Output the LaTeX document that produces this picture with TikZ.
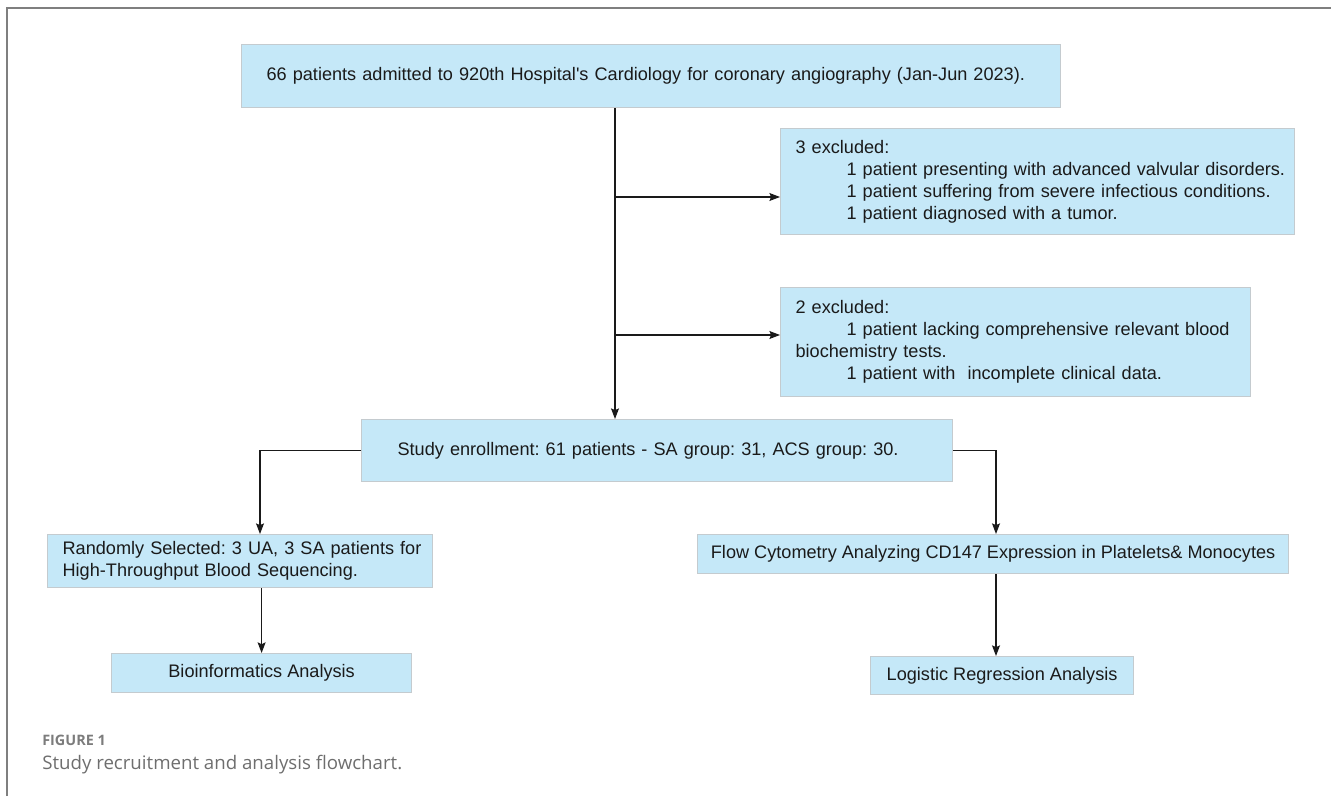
\documentclass[tikz,border=0pt]{standalone}
\usepackage{fontspec}
\setmainfont{Liberation Sans}
\newfontfamily\capfont{Open Sans}
\usetikzlibrary{arrows.meta,positioning,calc}
\definecolor{ink}{HTML}{1A1A1A}
\definecolor{fillb}{HTML}{C5E8F8}
\definecolor{edge}{HTML}{C4CBCF}
\definecolor{frame}{HTML}{7F7F7F}
\definecolor{capgray}{HTML}{6E6E6E}
\tikzset{
  box/.style={draw=edge,line width=.9pt,fill=fillb,inner ysep=2pt,align=left,anchor=north west,
    font=\fontsize{13.6pt}{16.5pt}\selectfont,text=ink},
  boxc/.style={box,align=center},
  ar/.style={-{Stealth[length=8pt,width=6pt,inset=1.4pt]},draw=ink,line width=.8pt},
  capsmall/.style={anchor=base west,font=\capfont\bfseries\fontsize{10.8pt}{12pt}\selectfont,text=capgray!90,inner sep=0pt},
  captext/.style={anchor=base west,font=\capfont\fontsize{14pt}{17pt}\selectfont,text=capgray,inner sep=0pt},
}
\newcommand{\ind}{\hspace*{38.25pt}}
\frenchspacing

\begin{document}
\begin{tikzpicture}[x=.75pt,y=-.75pt]
  \useasboundingbox (0,0) rectangle (1331,796);
  % page frame
  \draw[draw=frame,line width=1.1pt] (7,796) -- (7,8) -- (1331,8);
  % boxes
  \node[box,text width=576.75pt,inner xsep=18.75pt,minimum height=47.25pt] (top) at (241,44)
    {\mbox{66 patients admitted to 920th Hospital\textquotesingle s Cardiology for coronary angiography (Jan-Jun 2023).}};
  \node[box,text width=363pt,inner xsep=11.25pt,minimum height=79.5pt] (ex1) at (780,128)
    {3 excluded:\\\ind\mbox{1 patient presenting with advanced valvular disorders.}\\\ind\mbox{1 patient suffering from severe infectious conditions.}\\\ind 1 patient diagnosed with a tumor.\\[3pt]};
  \node[box,text width=330pt,inner xsep=11.25pt,minimum height=81.75pt] (ex2) at (780,287)
    {2 excluded:\\\ind\mbox{1 patient lacking comprehensive relevant blood}\\biochemistry tests.\\\ind 1 patient with\ \ incomplete clinical data.};
  \node[box,text width=389.25pt,inner xsep=27pt,minimum height=46.5pt] (enrol) at (361,419)
    {Study enrollment: 61 patients - SA group: 31, ACS group: 30.};
  \node[box,text width=266.25pt,inner xsep=11.25pt,minimum height=39.75pt] (rand) at (47,534)
    {\mbox{Randomly Selected: 3 UA, 3 SA patients for}\\High-Throughput Blood Sequencing.};
  \node[boxc,minimum width=225pt,minimum height=29.25pt] (bioinf) at (111,653) {Bioinformatics Analysis};
  \node[boxc,minimum width=443.25pt,minimum height=29.25pt] (flow) at (697,534)
    {Flow Cytometry Analyzing CD147 Expression in Platelets\& Monocytes};
  \node[boxc,minimum width=197.25pt,minimum height=28.5pt] (logit) at (870,656) {Logistic Regression Analysis};
  % connectors
  \coordinate (trunk) at (615,0);
  \coordinate (lb) at (260,0);
  \coordinate (rb) at (996,0);
  \coordinate (b1) at (615,197);
  \coordinate (b2) at (615,335);
  \draw[ar] (trunk |- top.south) -- (trunk |- enrol.north);
  \draw[ar] (b1) -- (b1 -| ex1.west);
  \draw[ar] (b2) -- (b2 -| ex2.west);
  \draw[ar] (enrol.west) -| (lb |- rand.north);
  \draw[ar] (enrol.east) -| (rb |- flow.north);
  \draw[ar] (bioinf.north |- rand.south) -- (bioinf.north);
  \draw[ar] (rb |- flow.south) -- (rb |- logit.north);
  % caption
  \node[capsmall] (fig) at (42,745) {FIGURE 1};
  \node[captext] (cap) at (42,769) {Study recruitment and analysis flowchart.};
\end{tikzpicture}
\end{document}
